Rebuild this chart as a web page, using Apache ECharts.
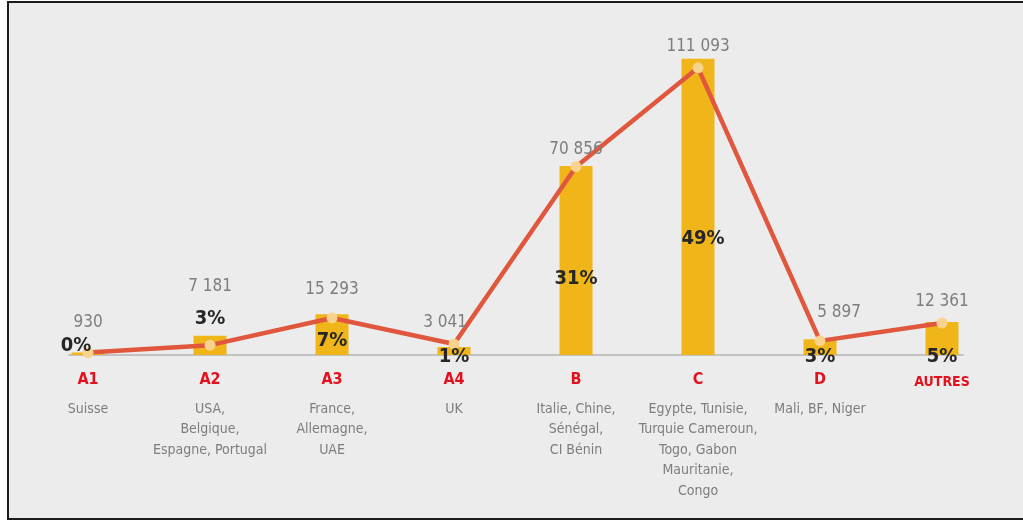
<!DOCTYPE html>
<html>
<head>
<meta charset="utf-8">
<script src="https://cdn.jsdelivr.net/npm/echarts@6/dist/echarts.min.js"></script>
<style>
  html, body { margin: 0; padding: 0; background: #ffffff; width: 1023px; height: 523px; overflow: hidden; }
  #frame { position: absolute; left: 7px; top: 1px; width: 1040px; height: 515px; border: 2px solid #1c1c1c; background: #ececec; }
  #chart { position: absolute; left: 0; top: 0; width: 1023px; height: 523px; }
</style>
</head>
<body>
<div id="frame"></div>
<div id="chart"></div>
<script>
// ---- data ----
const categories = ['A1', 'A2', 'A3', 'A4', 'B', 'C', 'D', 'AUTRES'];
const countries = [
  'Suisse',
  'USA,\nBelgique,\nEspagne, Portugal',
  'France,\nAllemagne,\nUAE',
  'UK',
  'Italie, Chine,\nSénégal,\nCI Bénin',
  'Egypte, Tunisie,\nTurquie Cameroun,\nTogo, Gabon\nMauritanie,\nCongo',
  'Mali, BF, Niger',
  ''
];
const barValues = [930, 7181, 15293, 3041, 70856, 111093, 5897, 12361];
const trendValues = [930, 3700, 13900, 4100, 70600, 107700, 5300, 12000];
const shares = [0, 3, 7, 1, 31, 49, 3, 5];

// ---- label placement (style only) ----
const numLabelOffsets = [[0, -9], [0, -38], [0, -7], [-9, 0], [0, 4], [0, 0], [19, -7], [0, 0]];
const pctLabelOffsets = [[-12, 1], [0, -26], [0, -4], [0, 12], [0, -66], [5, -106], [0, 12], [0, 12]];

const FONT = "'Liberation Sans Narrow', 'DejaVu Sans Condensed', 'Roboto', sans-serif";
const fmt = v => String(v).replace(/\B(?=(\d{3})+(?!\d))/g, ' ');

const chart = echarts.init(document.getElementById('chart'), null, { renderer: 'canvas' });

const barData = barValues.map((v, i) => [i, v]);
const pctData = barValues.map((v, i) => ({
  value: [i, v],
  label: { offset: pctLabelOffsets[i] }
}));
const lineData = trendValues.map((v, i) => ({
  value: [i, v],
  label: { offset: numLabelOffsets[i] }
}));

chart.setOption({
  backgroundColor: 'transparent',
  animation: false,
  grid: { left: 69, right: 60, top: 35, bottom: 168 },
  xAxis: {
    type: 'value',
    min: -0.156,
    max: 7.172,
    splitLine: { show: false },
    axisTick: { show: false },
    axisLine: { show: true, onZero: false, lineStyle: { color: '#b4b4b4', width: 1.5 } },
    axisLabel: {
      customValues: categories.map((c, i) => i),
      margin: 6,
      fontFamily: FONT,
      formatter: function (v) {
        const i = Math.round(v);
        const cat = categories[i];
        const style = cat.length > 3 ? 'catSmall' : 'cat';
        const sub = countries[i] ? '\n{sub|' + countries[i] + '}' : '';
        return '{' + style + '|' + cat + '}' + sub;
      },
      rich: {
        cat: { color: '#e2111d', fontSize: 16, fontWeight: 'bold', lineHeight: 38, fontFamily: FONT, align: 'center' },
        catSmall: { color: '#e2111d', fontSize: 14, fontWeight: 'bold', lineHeight: 42, fontFamily: FONT, align: 'center' },
        sub: { color: '#7d7d7d', fontSize: 14, lineHeight: 20.5, fontFamily: FONT, align: 'center' }
      }
    }
  },
  yAxis: {
    type: 'value',
    min: 0,
    max: 120000,
    show: false,
    splitLine: { show: false }
  },
  series: [
    {
      type: 'bar',
      data: barData,
      barWidth: 33,
      barGap: '-100%',
      itemStyle: { color: '#f0b519' },
      z: 2
    },
    {
      type: 'line',
      data: lineData,
      symbol: 'circle',
      symbolSize: 11,
      lineStyle: { color: '#e0573d', width: 4.5 },
      itemStyle: { color: '#f9d38b' },
      label: {
        show: true,
        position: 'top',
        distance: 7,
        fontFamily: FONT,
        fontSize: 17,
        color: '#7d7d7d',
        formatter: p => fmt(barValues[p.dataIndex])
      },
      z: 3
    },
    {
      type: 'bar',
      data: pctData,
      barWidth: 33,
      barGap: '-100%',
      itemStyle: { color: 'rgba(0,0,0,0)' },
      label: {
        show: true,
        position: 'insideBottom',
        distance: 0,
        fontFamily: FONT,
        fontSize: 20,
        fontWeight: 'bold',
        color: '#262626',
        formatter: p => shares[p.dataIndex] + '%'
      },
      z: 5
    }
  ]
});
</script>
</body>
</html>
